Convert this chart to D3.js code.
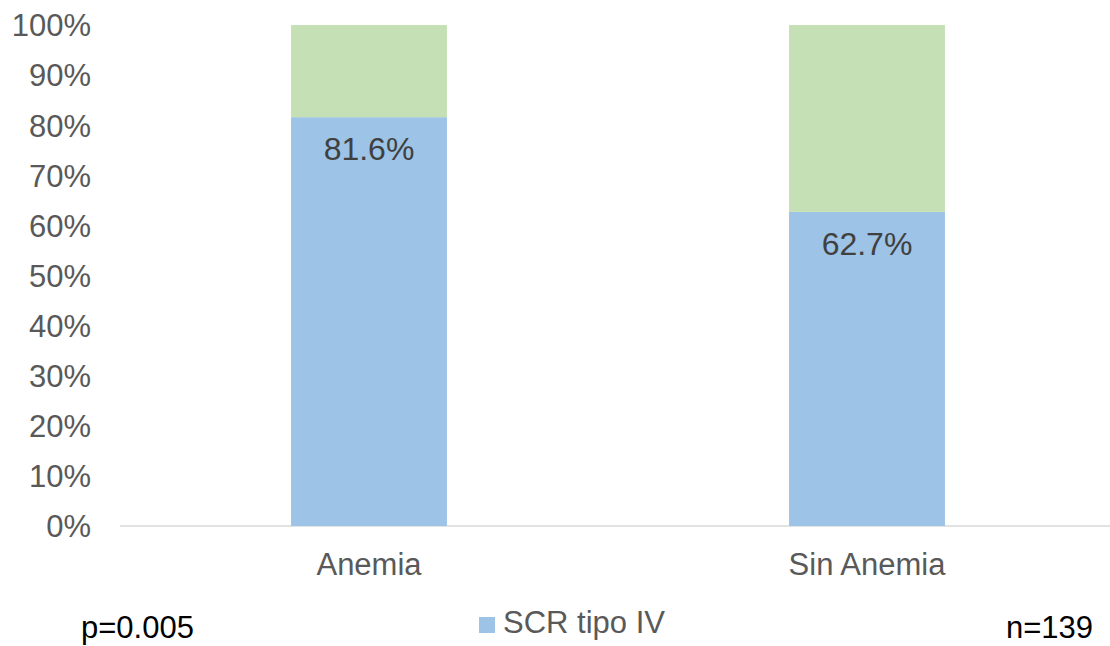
<!DOCTYPE html>
<html><head><meta charset="utf-8">
<script src="https://cdn.jsdelivr.net/npm/d3@7"></script>
<style>body{margin:0;background:#fff}svg{display:block;font-family:"Liberation Sans",Arial,sans-serif}</style>
</head><body>
<svg id="c" width="1110" height="646"></svg>
<script>
const categories = ["Anemia", "Sin Anemia"];
const scrTipoIV = [81.6, 62.7];
const otros = [18.4, 37.3];
const yTicks = [0,10,20,30,40,50,60,70,80,90,100];
const legendLabel = "SCR tipo IV";
const pText = "p=0.005";
const nText = "n=139";

const FONT = "Liberation Sans, Arial, sans-serif";
const svg = d3.select("#c");
const x = d3.scaleBand().domain(categories).range([120,1116]).paddingInner(0.687).paddingOuter(0.3435);
const y = d3.scaleLinear().domain([0,100]).range([526,25]);

// axis line
svg.append("line").attr("x1",120).attr("x2",1110).attr("y1",y(0)).attr("y2",y(0)).attr("stroke","#d9d9d9").attr("stroke-width",1.5);

// y ticks
const ya = svg.append("g").attr("transform","translate(91,0)").call(d3.axisLeft(y).tickValues(yTicks).tickFormat(d=>d+"%").tickSize(0).tickPadding(0));
ya.select(".domain").remove();
ya.selectAll("text").attr("font-size",31).attr("fill","#595959").attr("font-family",FONT).attr("dy","0.35em");

// x labels
const xa = svg.append("g").attr("transform","translate(0,0)").call(d3.axisBottom(x).tickSize(0).tickPadding(0));
xa.select(".domain").remove();
xa.selectAll("text").attr("font-size",31).attr("fill","#595959").attr("font-family",FONT).attr("y",575).attr("dy",0);

// bars
const g = svg.append("g");
categories.forEach((c,i)=>{
  g.append("rect").attr("x",x(c)).attr("width",x.bandwidth()).attr("y",y(scrTipoIV[i])).attr("height",y(0)-y(scrTipoIV[i])).attr("fill","#9dc3e6");
  g.append("rect").attr("x",x(c)).attr("width",x.bandwidth()).attr("y",y(scrTipoIV[i]+otros[i])).attr("height",y(scrTipoIV[i])-y(scrTipoIV[i]+otros[i])).attr("fill","#c5e0b4");
  g.append("text").attr("x",x(c)+x.bandwidth()/2).attr("y",y(scrTipoIV[i])+43).attr("text-anchor","middle").attr("font-size",32).attr("fill","#404040").text(scrTipoIV[i].toFixed(1)+"%");
});

// legend
svg.append("rect").attr("x",479).attr("y",617).attr("width",16).attr("height",16).attr("fill","#9dc3e6");
svg.append("text").attr("x",503).attr("y",633).attr("font-size",31).attr("fill","#595959").text(legendLabel);

svg.append("text").attr("x",81).attr("y",638).attr("font-size",31).attr("fill","#000").text(pText);
svg.append("text").attr("x",1093).attr("y",638).attr("text-anchor","end").attr("font-size",31).attr("fill","#000").text(nText);
</script>
</body></html>
